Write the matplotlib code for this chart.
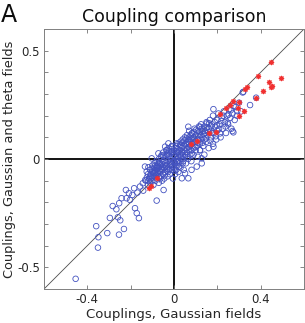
import matplotlib
matplotlib.use("Agg")
import matplotlib.pyplot as plt
import numpy as np

# blue circles: couplings (Gaussian fields, Gaussian + theta fields)
blue_x = [
    -0.454, -0.359, -0.349, -0.351, -0.308, -0.254, -0.231, -0.296, -0.259, -0.248,
    -0.283, -0.253, -0.266, -0.242, -0.222, -0.208, -0.180, -0.172, -0.162, -0.203,
    -0.192, -0.219, -0.184, -0.169, -0.157, -0.144, -0.133, -0.126, -0.118, -0.110,
    -0.095, -0.087, -0.080, -0.072, -0.080, -0.048, -0.142, -0.057, -0.034,
    -0.13, -0.12, -0.12, -0.115, -0.11, -0.11, -0.105, -0.10, -0.10, -0.10,
    -0.095, -0.09, -0.09, -0.09, -0.085, -0.085, -0.08, -0.08, -0.08, -0.075,
    -0.075, -0.07, -0.07, -0.07, -0.065, -0.065, -0.06, -0.06, -0.06, -0.055,
    -0.055, -0.05, -0.05, -0.05, -0.045, -0.045, -0.04, -0.04, -0.04, -0.035,
    -0.035, -0.03, -0.03, -0.03, -0.025, -0.025, -0.02, -0.02, -0.02, -0.015,
    -0.015, -0.01, -0.01, -0.01, -0.005, -0.005, 0.00, 0.00, 0.00, 0.005,
    0.005, 0.01, 0.01, 0.01, 0.015, 0.015, 0.02, 0.02, 0.02, 0.025,
    0.025, 0.03, 0.03, 0.03, 0.035, 0.035, 0.04, 0.04, 0.04, 0.045,
    0.045, 0.05, 0.05, 0.05, 0.055, 0.055, 0.06, 0.06, 0.06, 0.065,
    0.065, 0.07, 0.07, 0.07, 0.075, 0.075, 0.08, 0.08, 0.08, 0.085,
    0.085, 0.09, 0.09, 0.09, 0.095, 0.10, 0.10, 0.10, 0.105, 0.11,
    0.11, 0.11, 0.115, 0.12, 0.12, 0.12, 0.125, 0.13, 0.13, 0.135,
    0.14, 0.14, 0.14, 0.145, 0.15, 0.15, 0.155, 0.16, 0.16, 0.165,
    0.17, 0.17, 0.175, 0.18, 0.18, 0.185, 0.19, 0.195, 0.20, 0.20,
    0.205, 0.21, 0.215, 0.22, 0.225, 0.23, 0.235, 0.24, 0.245, 0.25,
    0.255, 0.26, 0.265, 0.27, 0.28, 0.285, 0.29, 0.30, 0.31,
    0.274, 0.270, 0.248, 0.182, 0.320, 0.351, 0.379, 0.292, 0.317, 0.066,
    0.120, 0.128, 0.182, 0.212, -0.011, 0.012, 0.082, 0.120, 0.151,
    -0.03, -0.01, 0.005, 0.02, -0.04, 0.03, 0.015, -0.02, 0.04, -0.055,
    0.06, -0.07, 0.07, 0.095, -0.09, 0.035, 0.0, 0.01, -0.025, 0.025,
    0.036, 0.066, 0.051, 0.081, 0.105, 0.128,
    -0.103, -0.134, -0.072, -0.041, -0.026,
    -0.125, -0.118, -0.108, -0.102, -0.097, -0.092, -0.088, -0.083, -0.078, -0.073,
    -0.068, -0.063, -0.058, -0.052, -0.048, -0.043, -0.038, -0.033, -0.028, -0.022,
    -0.018, -0.012, -0.008, -0.003, 0.003, 0.008, 0.012, 0.018, 0.022, 0.028,
    0.032, 0.038, 0.042, 0.048, 0.052, 0.058, 0.062, 0.068, 0.072, 0.078,
    0.082, 0.088, 0.092, 0.098, 0.102, 0.108, 0.112, 0.118, 0.122, 0.128,
    0.132, 0.138, 0.142, 0.148, 0.152, 0.158, 0.162, 0.168, 0.172, 0.178,
    0.188, 0.192, 0.198, 0.208, 0.218, 0.228, 0.238, 0.252, 0.262, 0.275,
]
blue_y = [
    -0.553, -0.310, -0.361, -0.409, -0.342, -0.349, -0.323, -0.272, -0.269, -0.283,
    -0.217, -0.204, -0.232, -0.181, -0.143, -0.158, -0.227, -0.250, -0.273, -0.189,
    -0.166, -0.181, -0.135, -0.155, -0.127, -0.112, -0.097, -0.058, -0.038, -0.081,
    -0.066, -0.051, -0.035, -0.020, -0.192, -0.143, -0.146, 0.018, 0.041,
    -0.10, -0.07, -0.12, -0.09, -0.05, -0.11, -0.08, -0.06, -0.10, -0.03,
    -0.12, -0.04, -0.08, -0.02, -0.06, -0.10, -0.05, -0.01, -0.09, -0.03,
    -0.07, -0.11, -0.04, 0.00, -0.06, -0.02, -0.08, -0.03, 0.01, -0.05,
    -0.10, -0.01, -0.07, 0.03, -0.04, -0.09, -0.02, 0.01, -0.06, 0.04,
    -0.03, -0.08, -0.01, 0.02, -0.05, 0.05, -0.03, 0.00, -0.07, 0.03,
    -0.02, -0.05, 0.01, 0.06, -0.01, -0.09, 0.02, -0.04, 0.04, -0.02,
    -0.07, 0.00, 0.05, -0.05, 0.03, -0.03, 0.01, -0.06, 0.07, -0.01,
    0.04, 0.02, -0.04, 0.08, 0.00, 0.05, -0.02, 0.03, 0.09, 0.06,
    -0.05, 0.01, 0.04, 0.10, 0.07, -0.02, 0.03, 0.05, 0.11, 0.00,
    0.08, 0.04, 0.10, 0.13, 0.06, 0.02, 0.09, 0.04, -0.01, 0.12,
    0.07, 0.05, 0.10, 0.02, 0.14, 0.08, 0.11, 0.04, 0.06, 0.13,
    0.09, 0.01, 0.15, 0.07, 0.11, 0.04, 0.16, 0.10, 0.13, 0.06,
    0.09, 0.15, 0.02, 0.12, 0.17, 0.08, 0.11, 0.14, 0.05, 0.18,
    0.10, 0.13, 0.16, 0.07, 0.20, 0.12, 0.15, 0.09, 0.18, 0.13,
    0.21, 0.16, 0.10, 0.19, 0.14, 0.22, 0.17, 0.12, 0.20, 0.16,
    0.23, 0.19, 0.14, 0.21, 0.18, 0.24, 0.20, 0.26, 0.22,
    0.123, 0.129, 0.167, 0.230, 0.310, 0.249, 0.283, 0.221, 0.307, 0.149,
    0.041, 0.003, 0.057, 0.118, 0.057, 0.072, 0.118, 0.149, 0.164,
    -0.045, -0.025, 0.015, 0.03, -0.035, 0.06, -0.01, -0.015, 0.015, -0.025,
    0.07, -0.085, 0.07, 0.09, -0.065, 0.03, -0.015, 0.035, 0.015, -0.02,
    -0.089, -0.089, -0.066, -0.05, -0.035, -0.02,
    0.003, -0.035, 0.026, 0.057, 0.072,
    -0.085, -0.10, -0.07, -0.045, -0.085, -0.055, -0.03, -0.075, -0.04, -0.055,
    -0.015, -0.09, -0.045, -0.035, 0.015, -0.075, -0.005, 0.025, -0.06, 0.035,
    -0.045, 0.045, -0.035, 0.03, -0.055, 0.06, -0.015, 0.045, -0.035, 0.065,
    0.01, 0.075, -0.01, 0.085, 0.02, 0.095, 0.01, 0.055, 0.085, 0.11,
    0.025, 0.095, 0.125, 0.055, 0.135, 0.075, 0.105, 0.125, 0.09, 0.14,
    0.075, 0.115, 0.13, 0.095, 0.145, 0.125, 0.165, 0.085, 0.15, 0.12,
    0.17, 0.105, 0.155, 0.14, 0.175, 0.2, 0.15, 0.205, 0.225, 0.245,
]

# red asterisks
red_x = [0.448, 0.388, 0.440, 0.494, 0.448, 0.454, 0.411, 0.336, 0.329, 0.377,
         0.299, 0.296, 0.271, 0.325, 0.302, 0.259, 0.242, 0.212, 0.196, 0.163,
         0.105, 0.080, -0.108, -0.114, -0.077]
red_y = [0.446, 0.384, 0.355, 0.372, 0.330, 0.335, 0.315, 0.330, 0.321, 0.281,
         0.263, 0.234, 0.269, 0.220, 0.197, 0.250, 0.235, 0.206, 0.124, 0.118,
         0.084, 0.068, -0.123, -0.132, -0.086]

fig = plt.figure(figsize=(3.05, 3.23), dpi=100)
ax = fig.add_axes([44/305, 34/323, 260/305, 260/323])

lim = 0.6
ax.plot([-lim, lim], [-lim, lim], color='0.3', lw=0.6, zorder=1)
ax.axhline(0, color='black', lw=1.3, zorder=1)
ax.axvline(0, color='black', lw=1.3, zorder=1)

ax.scatter(blue_x, blue_y, s=16, facecolors='none', edgecolors='#4352c0',
           linewidths=0.6, zorder=2)
ax.scatter(red_x, red_y, s=10, marker=(8, 2, 0), color='#f03030',
           linewidths=0.8, zorder=3)

ax.set_xlim(-lim, lim)
ax.set_ylim(-lim, lim)
ax.set_xticks(np.arange(-0.6, 0.61, 0.2))
ax.set_xticklabels(['', '-0.4', '', '0', '', '0.4', ''])
ax.set_yticks(np.arange(-0.6, 0.61, 0.1))
ax.set_yticklabels(['-0.5' if abs(v + 0.5) < 1e-6 else '0.5' if abs(v - 0.5) < 1e-6
                    else '0' if abs(v) < 1e-6 else '' for v in np.arange(-0.6, 0.61, 0.1)])
ax.tick_params(direction='in', length=3, width=0.6, color='0.45',
               labelsize=8.5, labelcolor='0.15', top=True, right=True, pad=3)
for sp in ax.spines.values():
    sp.set_color('0.5')
    sp.set_linewidth(0.7)

ax.set_xlabel('Couplings, Gaussian fields', fontsize=9.5, color='0.15', labelpad=1)
ax.set_ylabel('Couplings, Gaussian and theta fields', fontsize=9.3, color='0.15', labelpad=1)
ax.set_title('Coupling comparison', fontsize=12.5, color='0.05', pad=5)
fig.text(0.003, 0.99, 'A', fontsize=17, va='top', ha='left', color='0.05')

fig.savefig('out.png', dpi=100)
